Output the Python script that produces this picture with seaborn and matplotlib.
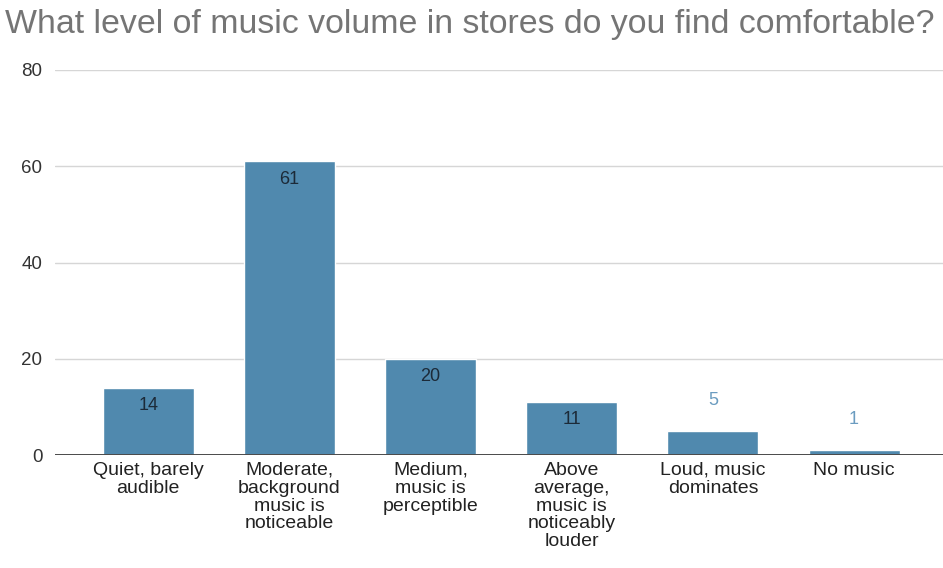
import matplotlib
matplotlib.use("Agg")
import matplotlib.pyplot as plt
import seaborn as sns
import pandas as pd

categories = [
    "Quiet, barely\naudible",
    "Moderate,\nbackground\nmusic is\nnoticeable",
    "Medium,\nmusic is\nperceptible",
    "Above\naverage,\nmusic is\nnoticeably\nlouder",
    "Loud, music\ndominates",
    "No music",
]
responses = [14, 61, 20, 11, 5, 1]
y_ticks = [0, 20, 40, 60, 80]

title = "What level of music volume in stores do you find comfortable?"

bar_color = "#5089ae"
inside_label_color = "#1c2a38"
outside_label_color = "#6b9cc0"

sns.set_theme(style="white")
plt.rcParams["font.family"] = ["Liberation Sans", "DejaVu Sans"]

df = pd.DataFrame({"category": categories, "responses": responses})

fig = plt.figure(figsize=(9.43, 5.68), dpi=100)
ax = fig.add_axes([55 / 943, 1 - 455 / 568, 1 - 55 / 943, (455 - 70) / 568])

sns.barplot(data=df, x="category", y="responses", color=bar_color,
            saturation=1, width=0.645, ax=ax, zorder=3)

ax.set_ylim(0, 80)
ax.set_xlim(-0.66, 5.63)
ax.set_yticks(y_ticks)
ax.set_yticklabels([str(t) for t in y_ticks], fontsize=13.5, color="#333333")
ax.tick_params(axis="y", length=0, pad=9)
ax.tick_params(axis="x", length=0, pad=5)
for lbl in ax.get_xticklabels():
    lbl.set_fontsize(14)
    lbl.set_color("#222222")
    lbl.set_linespacing(1.06)
    lbl.set_verticalalignment("top")

ax.set_xlabel("")
ax.set_ylabel("")
for side in ["top", "right", "left", "bottom"]:
    ax.spines[side].set_visible(False)

ax.yaxis.grid(True, color="#d6d6d6", linewidth=1.0, zorder=0)
ax.set_axisbelow(True)
ax.axhline(0, color="#4a4a4a", linewidth=1.4, zorder=4)

# value labels: inside the bar top for tall bars, above it for short ones
for patch, val in zip(ax.patches, responses):
    cx = patch.get_x() + patch.get_width() / 2
    top = patch.get_height()
    if val >= 10:
        ax.annotate(str(val), xy=(cx, top), xytext=(0, -12.8),
                    textcoords="offset points", ha="center", va="center",
                    fontsize=13, color=inside_label_color, zorder=5)
    else:
        ax.annotate(str(val), xy=(cx, top), xytext=(0, 22),
                    textcoords="offset points", ha="center", va="center",
                    fontsize=13, color=outside_label_color, zorder=5)

fig.text(5 / 943, 1 - 25 / 568, title, ha="left", va="center",
         fontsize=24.4, color="#757575")

fig.savefig("out.png", dpi=100)
